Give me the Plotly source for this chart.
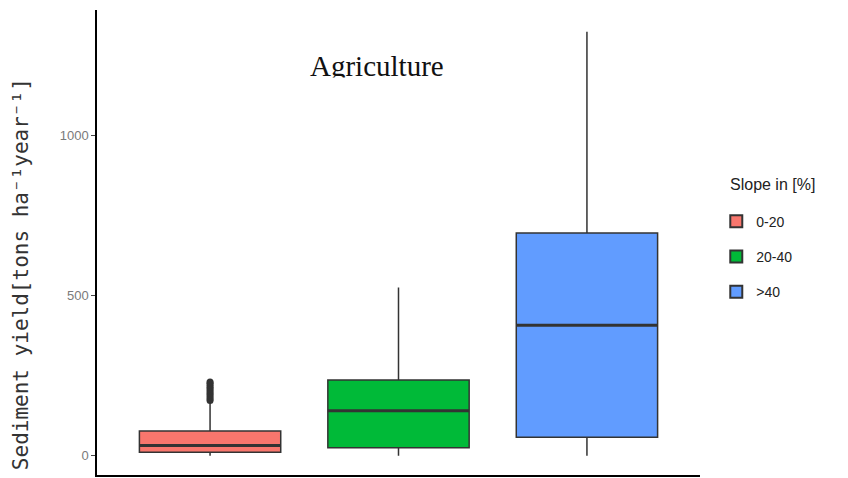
import plotly.graph_objects as go

# ---- data ----
categories = ["0-20", "20-40", ">40"]
q1 = [11, 25, 58]
median = [32, 140, 407]
q3 = [77, 236, 695]
lower_fence = [0, 0, 0]
upper_fence = [168, 525, 1322]
outliers_0_20 = [172, 178, 184, 190, 196, 202, 208, 214, 220, 226, 230]
colors = ["#F8766D", "#00BA38", "#619CFF"]
y_ticks = [0, 500, 1000]

fig = go.Figure()
for i, cat in enumerate(categories):
    fig.add_trace(go.Box(
        x=[i], q1=[q1[i]], median=[median[i]], q3=[q3[i]],
        lowerfence=[lower_fence[i]], upperfence=[upper_fence[i]],
        name=cat, fillcolor=colors[i],
        line=dict(color="#333333", width=1.5),
        width=0.75, boxpoints=False, whiskerwidth=0,
        legendgroup=cat, showlegend=True,
    ))
    # thicker median line as in ggplot
    fig.add_trace(go.Scatter(
        x=[i - 0.375, i + 0.375], y=[median[i], median[i]], mode="lines",
        line=dict(color="#333333", width=3), showlegend=False, hoverinfo="skip",
        legendgroup=cat,
    ))

fig.add_trace(go.Scatter(
    x=[0] * len(outliers_0_20), y=outliers_0_20, mode="markers",
    marker=dict(color="#333333", size=7), showlegend=False, hoverinfo="skip",
))

fig.update_layout(
    width=840, height=470,
    margin=dict(l=89, r=148, t=2, b=3),
    plot_bgcolor="white", paper_bgcolor="white",
    font=dict(family="Liberation Sans, Arial, sans-serif", color="#333333"),
    xaxis=dict(range=[-0.6, 2.6], showticklabels=False, ticks="", showgrid=False,
               zeroline=False, showline=True, linecolor="black", linewidth=1.5),
    yaxis=dict(range=[-60, 1390], tickvals=y_ticks, ticktext=[str(v) for v in y_ticks],
               ticks="outside", ticklen=4, tickcolor="#444", tickwidth=1,
               tickfont=dict(size=13, color="#7a7a7a"),
               showgrid=False, zeroline=False, showline=True, linecolor="black", linewidth=1.5),
    legend=dict(x=1.027, y=0.579, xanchor="left", yanchor="top",
                font=dict(size=14, color="#222"), tracegroupgap=14,
                itemsizing="constant", bgcolor="rgba(0,0,0,0)"),
    showlegend=True,
    annotations=[
        dict(text="Agriculture", xref="paper", yref="paper", x=0.464, y=0.88,
             xanchor="center", yanchor="middle", showarrow=False,
             font=dict(family="Liberation Serif, Times New Roman, serif", size=29, color="#111")),
        # white strip that clips the title's descenders as in the reference
        dict(text=" ", xref="paper", yref="paper", x=0.464, y=0.843,
             xanchor="center", yanchor="middle", showarrow=False,
             width=175, height=10, bgcolor="white", borderpad=0,
             font=dict(size=6)),
        dict(text="Slope in [%]", xref="paper", yref="paper", x=1.046, y=0.624,
             xanchor="left", yanchor="middle", showarrow=False,
             font=dict(size=16, color="#222")),
        dict(text="Sediment yield[tons ha⁻¹year⁻¹]", xref="paper", yref="paper",
             x=-0.126, y=0.432, xanchor="center", yanchor="middle", textangle=-90,
             showarrow=False,
             font=dict(family="DejaVu Sans Mono, monospace", size=21, color="#333")),
    ],
)

fig.write_html("out.html")
